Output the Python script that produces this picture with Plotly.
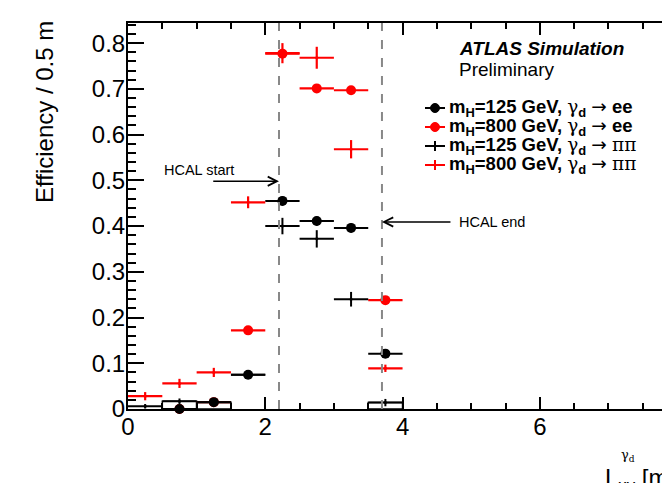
import plotly.graph_objects as go

# ---- data ----
bin_centers = [0.25, 0.75, 1.25, 1.75, 2.25, 2.75, 3.25, 3.75]
half_width = 0.25

ee125 = [None, 0.0, 0.015, 0.075, 0.455, 0.411, 0.396, 0.121]
ee125_err = [0.003, 0.003, 0.004, 0.006, 0.010, 0.010, 0.010, 0.008]

ee800 = [None, 0.0, 0.015, 0.172, 0.777, 0.701, 0.697, 0.238]
ee800_err = [0.003, 0.003, 0.004, 0.006, 0.008, 0.008, 0.008, 0.008]

pp125 = [0.006, 0.017, 0.015, 0.075, 0.400, 0.372, 0.240, 0.014]
pp125_err = [0.005, 0.006, 0.005, 0.008, 0.018, 0.019, 0.016, 0.008]

pp800 = [0.028, 0.056, 0.080, 0.452, 0.778, 0.768, 0.568, 0.089]
pp800_err = [0.009, 0.010, 0.010, 0.013, 0.022, 0.024, 0.020, 0.008]

box_x = [0.75, 1.25, 3.75]
box_y = [0.017, 0.015, 0.014]

HCAL_START = 2.2
HCAL_END = 3.7

SER = "DejaVu Serif"
ARR = "<span style='font-family:DejaVu Sans;font-weight:normal'>→</span>"
GAM = f"<span style='font-family:{SER};font-weight:normal'>γ</span><sub><b>d</b></sub>"
legend_labels = [
    f"<b>m<sub>H</sub>=125 GeV,</b> {GAM} {ARR} <b>ee</b>",
    f"<b>m<sub>H</sub>=800 GeV,</b> {GAM} {ARR} <b>ee</b>",
    f"<b>m<sub>H</sub>=125 GeV,</b> {GAM} {ARR} <span style='font-family:{SER}'>ππ</span>",
    f"<b>m<sub>H</sub>=800 GeV,</b> {GAM} {ARR} <span style='font-family:{SER}'>ππ</span>",
]
legend_colors = ["black", "red", "black", "red"]
legend_kind = ["circle", "circle", "cross", "cross"]

FONT = "Liberation Sans, Arial, sans-serif"

# plot-area geometry (pixels) used for placing decorations in paper coords
L, R, T, B = 128, 662, 23, 409
def px(xp):
    return (xp - L) / (R - L)
def py(yp):
    return (B - yp) / (B - T)

fig = go.Figure()

# error boxes near zero
fig.add_trace(go.Bar(x=box_x, y=box_y, width=0.5, marker=dict(color="rgba(0,0,0,0)",
                     line=dict(color="black", width=1.5)), showlegend=False, hoverinfo="skip"))


def series(y, err, color, symbol, size, lw):
    return go.Scatter(
        x=bin_centers, y=y, mode="markers",
        marker=dict(color=color, symbol=symbol, size=size),
        error_x=dict(type="constant", value=half_width, color=color, thickness=lw, width=0),
        error_y=dict(type="data", array=err, color=color, thickness=lw, width=0),
        showlegend=False, cliponaxis=False)


fig.add_trace(series(ee800, ee800_err, "red", "circle", 10, 2.2))
fig.add_trace(series(pp125, pp125_err, "black", "circle", 3, 2))
fig.add_trace(series(ee125, ee125_err, "black", "circle", 10, 2))
fig.add_trace(series(pp800, pp800_err, "red", "circle", 3, 2.2))

# manual legend
row_y = [108, 127, 146, 165]
for lab, c, k, ry in zip(legend_labels, legend_colors, legend_kind, row_y):
    fig.add_shape(type="line", xref="paper", yref="paper", x0=px(425), x1=px(445),
                  y0=py(ry), y1=py(ry), line=dict(color=c, width=2))
    if k == "circle":
        fig.add_shape(type="circle", xref="paper", yref="paper", x0=px(430.5), x1=px(439.5),
                      y0=py(ry - 4.5), y1=py(ry + 4.5), fillcolor=c, line=dict(color=c, width=1))
    else:
        fig.add_shape(type="line", xref="paper", yref="paper", x0=px(435), x1=px(435),
                      y0=py(ry - 5), y1=py(ry + 5), line=dict(color=c, width=2))
    fig.add_annotation(x=px(447), y=py(ry), xref="paper", yref="paper", xanchor="left",
                       yanchor="middle", text=lab, showarrow=False,
                       font=dict(family=FONT, size=18.5, color="black"))

for xv in (HCAL_START, HCAL_END):
    fig.add_shape(type="line", xref="x", yref="paper", x0=xv, x1=xv, y0=0, y1=1,
                  line=dict(color="#888888", width=2, dash="dash"))

fig.add_annotation(x=HCAL_START, y=0.498, ax=1.22, ay=0.498, axref="x", ayref="y",
                   xref="x", yref="y", showarrow=True, arrowhead=5, arrowsize=1.3,
                   arrowwidth=1.4, arrowcolor="black", text="")
fig.add_annotation(x=HCAL_END, y=0.409, ax=4.72, ay=0.409, axref="x", ayref="y",
                   xref="x", yref="y", showarrow=True, arrowhead=5, arrowsize=1.3,
                   arrowwidth=1.4, arrowcolor="black", text="")
fig.add_annotation(x=1.03, y=0.522, xref="x", yref="y", text="HCAL start", showarrow=False,
                   font=dict(family=FONT, size=14.5, color="black"))
fig.add_annotation(x=4.79, y=0.409, xref="x", yref="y", text="HCAL end", showarrow=False,
                   xanchor="left", font=dict(family=FONT, size=14.5, color="black"))

fig.add_annotation(x=px(457), y=py(48), xref="paper", yref="paper", xanchor="left", yanchor="middle",
                   text="<b><i>ATLAS Simulation</i></b>", showarrow=False,
                   font=dict(family=FONT, size=19, color="black"))
fig.add_annotation(x=px(457), y=py(69), xref="paper", yref="paper", xanchor="left", yanchor="middle",
                   text="Preliminary", showarrow=False,
                   font=dict(family=FONT, size=19, color="black"))

# y title
fig.add_annotation(x=px(45), y=py(19), xref="paper", yref="paper", xanchor="center", yanchor="top",
                   text="Efficiency / 0.5 m", textangle=-90, showarrow=False,
                   font=dict(family=FONT, size=24, color="black"))
# x title (cut at the edge as in the original)
fig.add_annotation(x=px(603), y=py(462), xref="paper", yref="paper", xanchor="left", yanchor="top",
                   text="L<sub>xy</sub> [m]", showarrow=False,
                   font=dict(family=FONT, size=24, color="black"))
fig.add_annotation(x=px(619), y=py(445), xref="paper", yref="paper", xanchor="left", yanchor="top",
                   text="γ<sub>d</sub>", showarrow=False,
                   font=dict(family=SER, size=13, color="black"))

fig.update_layout(
    width=662, height=483, autosize=False,
    margin=dict(l=L, r=662 - R, t=T, b=483 - B),
    paper_bgcolor="white", plot_bgcolor="white",
    font=dict(family=FONT, color="black"),
    barmode="overlay", showlegend=False,
    xaxis=dict(range=[0, 7.78], showgrid=False, zeroline=False, showline=True, linecolor="black",
               linewidth=2, mirror="allticks", ticks="inside", ticklen=12, tickwidth=1.5,
               tickcolor="black", dtick=2, tick0=0, tickfont=dict(family=FONT, size=24),
               ticklabelstandoff=-5,
               minor=dict(dtick=0.5, ticks="inside", ticklen=6, tickcolor="black", tickwidth=1.5)),
    yaxis=dict(range=[0, 0.844], showgrid=False, zeroline=False, showline=True, linecolor="black",
               linewidth=2, mirror=False, ticks="inside", ticklen=16, tickwidth=1.5,
               tickcolor="black", dtick=0.1, tick0=0, tickfont=dict(family=FONT, size=24),
               ticklabelstandoff=-4,
               minor=dict(dtick=0.02, ticks="inside", ticklen=8, tickcolor="black", tickwidth=1.5)),
)

fig.write_html("out.html")
